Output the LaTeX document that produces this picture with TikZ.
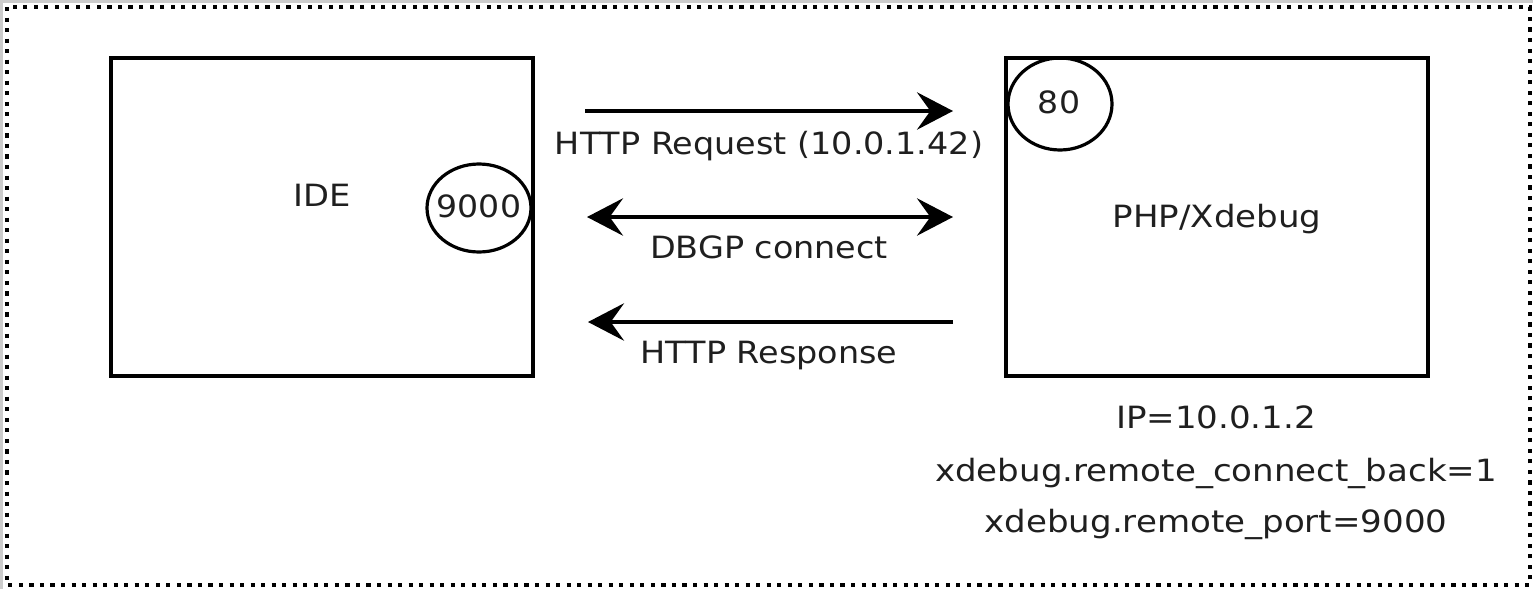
\documentclass[tikz,border=0pt]{standalone}
\usepackage{fontspec}
\setmainfont{DejaVu Sans}
\usetikzlibrary{arrows.meta}
\newcommand{\sxtxt}[2]{\scalebox{#1}[1]{#2}}
\begin{document}
\begin{tikzpicture}[x=0.75pt,y=-0.75pt,
  box/.style={draw=black,line width=2.8pt},
  port/.style={draw=black,line width=2.4pt},
  conn/.style={line width=3pt,-{Stealth[length=27pt,width=28pt,inset=10pt]}},
  biconn/.style={line width=3pt,{Stealth[length=27pt,width=28pt,inset=10pt]}-{Stealth[length=27pt,width=28pt,inset=10pt]}},
  lbl/.style={inner sep=0pt,anchor=base,font=\fontsize{23}{28}\selectfont,text=black!88}]
\useasboundingbox (0,0) rectangle (1533,589);
\fill[black!20] (0,0) rectangle (1533,589);
\fill[white] (3,3) rectangle (1533,589);
\draw[line width=3.1pt,dash pattern=on 3.1pt off 4.8pt] (7,7) rectangle (1530,585);
% boxes
\draw[box] (111,58) rectangle (533,376);
\draw[box] (1006,58) rectangle (1428,376);
% ports
\draw[port] (479,208) ellipse [x radius=52,y radius=44];
\draw[port] (1060,104) ellipse [x radius=52,y radius=46];
\node[lbl] (ide) at (322,206) {\sxtxt{1.10}{IDE}};
\node[lbl] (p9000) at (479,217) {\sxtxt{1.08}{9000}};
\node[lbl] (p80) at (1059,113) {\sxtxt{1.08}{80}};
\node[lbl] (php) at (1217,227) {\sxtxt{1.11}{PHP/Xdebug}};
% connectors
\coordinate (reqA) at (585,111);
\coordinate (reqB) at (953,111);
\coordinate (dbA) at (587,217);
\coordinate (dbB) at (953,217);
\coordinate (resA) at (953,322);
\coordinate (resB) at (588,322);
\draw[conn] (reqA) -- (reqB);
\draw[biconn] (dbA) -- (dbB);
\draw[conn] (resA) -- (resB);
\node[lbl] (lreq) at (769,154) {\sxtxt{1.09}{HTTP Request (10.0.1.42)}};
\node[lbl] (ldb) at (769,258) {\sxtxt{1.09}{DBGP connect}};
\node[lbl] (lres) at (769,363) {\sxtxt{1.09}{HTTP Response}};
% config text
\node[lbl] (ip) at (1216,428) {\sxtxt{1.11}{IP=10.0.1.2}};
\node[lbl] (cb) at (1216,481) {\sxtxt{1.11}{xdebug.remote\_connect\_back=1}};
\node[lbl] (rp) at (1216,532) {\sxtxt{1.11}{xdebug.remote\_port=9000}};
\end{tikzpicture}
\end{document}
